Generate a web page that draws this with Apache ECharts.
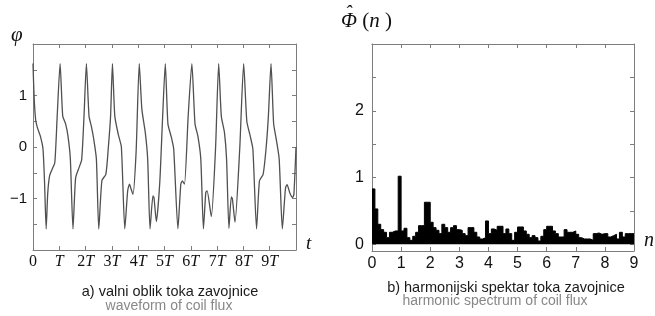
<!DOCTYPE html>
<html>
<head>
<meta charset="utf-8">
<script src="https://cdn.jsdelivr.net/npm/echarts@6/dist/echarts.min.js"></script>
<style>
  html, body { margin: 0; padding: 0; background: #fff; }
  #main { width: 655px; height: 316px; }
</style>
</head>
<body>
<div id="main"></div>
<script>
// a) waveform of coil flux (time in periods T)
const tVals = [
  0, 0.04, 0.1, 0.17, 0.28, 0.38, 0.44, 0.5, 0.56, 0.63, 0.73, 0.83, 0.92, 1.03,
  1.13, 1.24, 1.33, 1.42, 1.52, 1.62, 1.75, 1.85, 1.94, 2.03,
  2.13, 2.22, 2.31, 2.41, 2.5, 2.62, 2.77, 2.86, 2.95, 3.02,
  3.11, 3.24, 3.36, 3.49, 3.6, 3.67, 3.72, 3.8, 3.92, 4.04,
  4.14, 4.27, 4.36, 4.45, 4.56, 4.6, 4.69, 4.82, 4.93, 5.03,
  5.13, 5.26, 5.35, 5.51, 5.62, 5.68, 5.76, 5.9, 6.04,
  6.16, 6.27, 6.38, 6.48, 6.57, 6.62, 6.78, 6.94, 7.06,
  7.16, 7.28, 7.36, 7.45, 7.54, 7.58, 7.68, 7.86, 8.01,
  8.13, 8.26, 8.36, 8.5, 8.61, 8.75, 8.86, 8.95, 9.05,
  9.15, 9.25, 9.36, 9.48, 9.6, 9.66, 9.77, 9.87, 9.92, 10
];
const phiVals = [
  1.62, 1.0, 0.53, 0.37, 0.21, -0.04, -0.7, -1.59, -0.9, -0.56, -0.43, -0.3, 0.6, 1.62,
  0.6, 0.45, 0.21, -0.23, -1.59, -0.6, -0.4, -0.25, 0.6, 1.62,
  0.6, 0.4, 0.15, -0.23, -1.59, -0.65, -0.53, -0.04, 0.6, 1.62,
  0.6, 0.25, 0.0, -1.59, -0.85, -0.72, -0.8, -0.92, -0.1, 1.62,
  0.73, 0.28, -0.23, -1.59, -0.95, -0.98, -1.45, -0.69, 0.6, 1.62,
  0.45, 0.19, -0.04, -1.59, -0.72, -0.66, -0.72, 0.6, 1.62,
  0.45, 0.21, -0.23, -1.59, -0.88, -0.85, -1.35, -0.04, 1.62,
  0.6, 0.28, -0.23, -1.58, -0.97, -1.0, -1.46, -0.04, 1.62,
  0.5, 0.21, -0.04, -1.59, -0.66, -0.53, -0.04, 0.6, 1.62,
  0.45, 0.15, -0.23, -1.59, -0.8, -0.73, -0.9, -0.98, -0.92, 0.0
];

// b) harmonic spectrum, one bin every 0.1 of n
const binWidth = 0.1;
const spectrum = [
  0.83, 0.53, 0.3, 0.22, 0.18, 0.1, 0.18, 0.2, 0.2, 1.02,
  0.2, 0.24, 0.1, 0.06, 0.12, 0.18, 0.28, 0.28, 0.63, 0.63,
  0.33, 0.25, 0.21, 0.16, 0.3, 0.25, 0.18, 0.25, 0.28, 0.22,
  0.21, 0.16, 0.13, 0.25, 0.25, 0.18, 0.11, 0.08, 0.1, 0.35,
  0.16, 0.23, 0.21, 0.27, 0.27, 0.16, 0.23, 0.16, 0.06, 0.18,
  0.26, 0.26, 0.2, 0.15, 0.1, 0.13, 0.1, 0.05, 0.12, 0.22,
  0.27, 0.27, 0.2, 0.16, 0.11, 0.11, 0.22, 0.18, 0.18, 0.2,
  0.15, 0.1, 0.08, 0.08, 0.08, 0.06, 0.16, 0.17, 0.15, 0.16,
  0.16, 0.11, 0.13, 0.15, 0.08, 0.18, 0.11, 0.16, 0.16, 0.16
];

const frame = '#7d7d7d';
const serif = 'Liberation Serif';
const sans = 'Liberation Sans';

var chart = echarts.init(document.getElementById('main'));

var wave = tVals.map(function (t, i) { return [t, phiVals[i]]; });
var bins = spectrum.map(function (v, i) { return [i * binWidth, v]; });
bins.push([spectrum.length * binWidth, spectrum[spectrum.length - 1]]);

function boxAxis(extra) {
  return Object.assign({
    axisLine: { show: true, onZero: false, lineStyle: { color: frame, width: 1 } },
    axisTick: { show: true, inside: true, length: 4, lineStyle: { color: frame } },
    splitLine: { show: false },
    axisLabel: { show: false }
  }, extra);
}

chart.setOption({
  animation: false,
  backgroundColor: '#fff',
  grid: [
    { left: 33, top: 44, width: 263, height: 206 },
    { left: 372, top: 44, width: 262, height: 207 }
  ],
  xAxis: [
    boxAxis({
      type: 'value', gridIndex: 0, position: 'bottom', min: 0, max: 10, interval: 1,
      axisLabel: {
        show: true, margin: 4, color: '#111',
        formatter: function (v) {
          if (v === 0) return '{n|0}';
          if (v === 1) return '{t|T}';
          if (v > 9) return '';
          return '{n|' + v + '}{t|T}';
        },
        rich: {
          n: { fontFamily: serif, fontSize: 16, color: '#111' },
          t: { fontFamily: serif, fontSize: 16, fontStyle: 'italic', color: '#111' }
        }
      }
    }),
    boxAxis({ type: 'value', gridIndex: 0, position: 'top', min: 0, max: 10, interval: 1 }),
    boxAxis({
      type: 'value', gridIndex: 1, position: 'bottom', min: 0, max: 9, interval: 1,
      axisLabel: { show: true, margin: 5, color: '#111', fontFamily: sans, fontSize: 16 }
    }),
    boxAxis({ type: 'value', gridIndex: 1, position: 'top', min: 0, max: 9, interval: 1 })
  ],
  yAxis: [
    boxAxis({
      type: 'value', gridIndex: 0, position: 'left', min: -2, max: 2, interval: 0.5,
      axisLabel: {
        show: true, margin: 6, color: '#111', fontFamily: sans, fontSize: 15,
        formatter: function (v) {
          if (v === 0 || v === 1) return String(v);
          if (v === -1) return '\u22121';
          return '';
        }
      }
    }),
    boxAxis({ type: 'value', gridIndex: 0, position: 'right', min: -2, max: 2, interval: 0.5 }),
    boxAxis({
      type: 'value', gridIndex: 1, position: 'left', min: -0.1, max: 3,
      axisTick: { show: true, inside: true, length: 4, lineStyle: { color: frame },
        customValues: [0, 0.5, 1, 1.5, 2, 2.5, 3] },
      axisLabel: { show: true, margin: 8, color: '#111', fontFamily: sans, fontSize: 16,
        customValues: [0, 1, 2] }
    }),
    boxAxis({
      type: 'value', gridIndex: 1, position: 'right', min: -0.1, max: 3,
      axisTick: { show: true, inside: true, length: 4, lineStyle: { color: frame },
        customValues: [0, 0.5, 1, 1.5, 2, 2.5, 3] }
    })
  ],
  series: [
    {
      type: 'line', xAxisIndex: 0, yAxisIndex: 0, data: wave,
      showSymbol: false, smooth: 0.2,
      lineStyle: { color: '#505050', width: 1.3 }
    },
    {
      type: 'line', xAxisIndex: 2, yAxisIndex: 2, data: bins,
      step: 'end', showSymbol: false,
      lineStyle: { color: '#000', width: 1 },
      areaStyle: { color: '#000', opacity: 1 }
    }
  ],
  graphic: [
    { type: 'text', left: 11, top: 25, style: { text: 'φ', font: 'italic 21px "Liberation Serif"', fill: '#111' } },
    { type: 'text', left: 306, top: 234, style: { text: 't', font: 'italic 19px "Liberation Serif"', fill: '#111' } },
    { type: 'text', left: 644, top: 231, style: { text: 'n', font: 'italic 20px "Liberation Serif"', fill: '#111' } },
    {
      type: 'text', left: 341, top: 11,
      style: {
        text: '{p|Φ}{b| (}{i|n}{b| )}',
        rich: {
          p: { fontFamily: serif, fontSize: 21, fontStyle: 'italic', fill: '#111' },
          b: { fontFamily: serif, fontSize: 21, fill: '#111' },
          i: { fontFamily: serif, fontSize: 21, fontStyle: 'italic', fill: '#111' }
        }
      }
    },
    { type: 'text', left: 345, top: 5, style: { text: '\u02C6', font: 'italic 20px "Liberation Serif"', fill: '#111' } },
    { type: 'text', x: 170, y: 292, style: { text: 'a) valni oblik toka zavojnice', font: '14.5px "Liberation Sans"', fill: '#1a1a1a', align: 'center', verticalAlign: 'middle' } },
    { type: 'text', x: 169, y: 306, style: { text: 'waveform of coil flux', font: '14px "Liberation Sans"', fill: '#888', align: 'center', verticalAlign: 'middle' } },
    { type: 'text', x: 506, y: 288, style: { text: 'b) harmonijski spektar toka zavojnice', font: '14.5px "Liberation Sans"', fill: '#1a1a1a', align: 'center', verticalAlign: 'middle' } },
    { type: 'text', x: 495, y: 301, style: { text: 'harmonic spectrum of coil flux', font: '14px "Liberation Sans"', fill: '#888', align: 'center', verticalAlign: 'middle' } }
  ]
});
</script>
</body>
</html>
